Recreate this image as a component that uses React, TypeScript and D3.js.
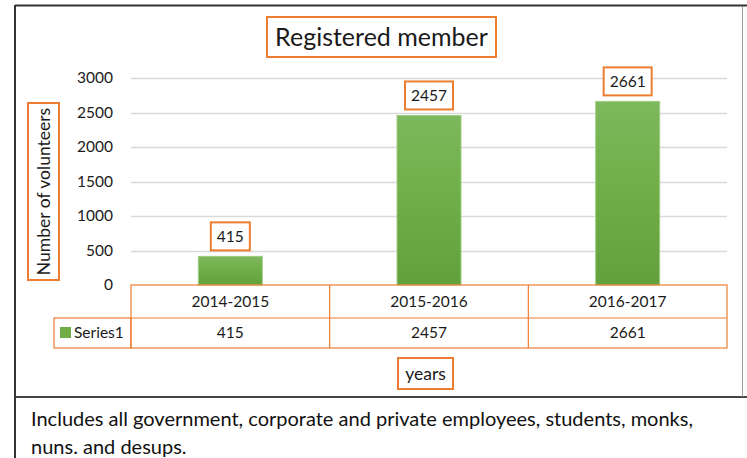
import React, { useEffect, useRef } from "react";
import * as d3 from "d3";

const width = 747;
const height = 458;

const categories = ["2014-2015", "2015-2016", "2016-2017"];
const values = [415, 2457, 2661];
const yTicks = [0, 500, 1000, 1500, 2000, 2500, 3000];
const seriesName = "Series1";
const title = "Registered member";
const yTitle = "Number of volunteers";
const xTitle = "years";
const noteLines = [
  "Includes all government, corporate and private employees, students, monks,",
  "nuns. and desups.",
];

const orange = "#ED7D31";
const ink = "#1a1a1a";
const font = "Lato, 'Open Sans', sans-serif";

const App = () => {
  const ref = useRef<SVGSVGElement>(null);

  const chart = () => {
    const svg = d3
      .select(ref.current)
      .attr("width", width)
      .attr("height", height)
      .attr("viewBox", [0, 0, width, height].join(" "))
      .style("font-family", font)
      .attr("fill", ink);

    svg.selectAll("*").remove();

    svg.append("rect").attr("width", width).attr("height", height).attr("fill", "#fff");

    const x = d3.scaleBand().domain(categories).range([131, 727]);
    const y = d3.scaleLinear().domain([0, 3000]).range([285, 78]);

    // outer frame
    svg.append("line").attr("x1", 15).attr("x2", width).attr("y1", 5.5).attr("y2", 5.5)
      .attr("stroke", "#333").attr("stroke-width", 2);
    svg.append("line").attr("x1", 15).attr("x2", 15).attr("y1", 5).attr("y2", height)
      .attr("stroke", "#333").attr("stroke-width", 2);
    svg.append("line").attr("x1", 15).attr("x2", width).attr("y1", 397).attr("y2", 397)
      .attr("stroke", "#444").attr("stroke-width", 2);
    svg.append("line").attr("x1", 742.5).attr("x2", 742.5).attr("y1", 6).attr("y2", 397)
      .attr("stroke", "#999").attr("stroke-width", 1);

    // gridlines
    svg.append("g")
      .selectAll("line")
      .data(yTicks.filter((d) => d > 0))
      .join("line")
      .attr("x1", 131)
      .attr("x2", 727)
      .attr("y1", (d) => Math.round(y(d)) + 0.5)
      .attr("y2", (d) => Math.round(y(d)) + 0.5)
      .attr("stroke", "#d9d9d9")
      .attr("stroke-width", 1.3);

    // y axis ticks
    const yAxis = d3.axisLeft(y).tickValues(yTicks).tickFormat(d3.format("d")).tickSize(0).tickPadding(0);
    svg.append("g")
      .attr("transform", "translate(113,0)")
      .call(yAxis)
      .call((g) => g.select(".domain").remove())
      .call((g) =>
        g.selectAll("text")
          .attr("font-size", 15.5)
          .attr("font-family", font)
          .attr("fill", ink)
      );

    // gradient
    const defs = svg.append("defs");
    const grad = defs.append("linearGradient").attr("id", "barGrad")
      .attr("x1", 0).attr("x2", 0).attr("y1", 0).attr("y2", 1);
    grad.append("stop").attr("offset", "0%").attr("stop-color", "#7db85d");
    grad.append("stop").attr("offset", "50%").attr("stop-color", "#6fae46");
    grad.append("stop").attr("offset", "100%").attr("stop-color", "#62a03c");

    const barW = 64;
    svg.append("g")
      .selectAll("rect")
      .data(values)
      .join("rect")
      .attr("x", (d, i) => x(categories[i])! + x.bandwidth() / 2 - barW / 2)
      .attr("y", (d) => y(d))
      .attr("width", barW)
      .attr("height", (d) => y(0) - y(d))
      .attr("fill", "url(#barGrad)")
      .attr("stroke", "#9fcd84")
      .attr("stroke-width", 1);

    // data labels
    const lbl = svg.append("g")
      .selectAll("g")
      .data(values)
      .join("g")
      .attr("transform", (d, i) => `translate(${x(categories[i])! + x.bandwidth() / 2},${y(d) - 20})`);
    lbl.append("rect")
      .attr("x", (d) => -(String(d).length * 9 + 12) / 2)
      .attr("y", -14)
      .attr("width", (d) => String(d).length * 9 + 12)
      .attr("height", 28)
      .attr("fill", "#fff")
      .attr("stroke", orange)
      .attr("stroke-width", 2);
    lbl.append("text")
      .attr("text-anchor", "middle")
      .attr("dy", "0.35em")
      .attr("font-size", 15.5)
      .text((d) => d);

    // data table
    const tbl = svg.append("g").attr("stroke", orange).attr("stroke-width", 1.2).attr("fill", "none");
    tbl.append("rect").attr("x", 131).attr("y", 285).attr("width", 596).attr("height", 63);
    tbl.append("line").attr("x1", 131).attr("x2", 727).attr("y1", 318).attr("y2", 318);
    tbl.append("rect").attr("x", 54).attr("y", 318).attr("width", 77).attr("height", 30);
    tbl.selectAll(".col")
      .data(categories.slice(1))
      .join("line")
      .attr("x1", (d) => x(d)!)
      .attr("x2", (d) => x(d)!)
      .attr("y1", 285)
      .attr("y2", 348);

    svg.append("g")
      .selectAll("text")
      .data(categories)
      .join("text")
      .attr("x", (d) => x(d)! + x.bandwidth() / 2)
      .attr("y", 307)
      .attr("text-anchor", "middle")
      .attr("font-size", 15.5)
      .text((d) => d);

    svg.append("g")
      .selectAll("text")
      .data(values)
      .join("text")
      .attr("x", (d, i) => x(categories[i])! + x.bandwidth() / 2)
      .attr("y", 338)
      .attr("text-anchor", "middle")
      .attr("font-size", 15.5)
      .text((d) => d);

    svg.append("rect").attr("x", 60).attr("y", 327).attr("width", 11).attr("height", 11).attr("fill", "#70AD47");
    svg.append("text").attr("x", 74).attr("y", 338).attr("font-size", 15.5).text(seriesName);

    // title
    svg.append("rect").attr("x", 267).attr("y", 17).attr("width", 229).attr("height", 40)
      .attr("fill", "#fff").attr("stroke", orange).attr("stroke-width", 2);
    svg.append("text").attr("x", 381.5).attr("y", 46).attr("text-anchor", "middle")
      .attr("font-size", 25).text(title);

    // y title
    svg.append("rect").attr("x", 28).attr("y", 103).attr("width", 31).attr("height", 177)
      .attr("fill", "#fff").attr("stroke", orange).attr("stroke-width", 2);
    svg.append("text")
      .attr("transform", "translate(43.5,191.5) rotate(-90)")
      .attr("text-anchor", "middle")
      .attr("dy", "0.35em")
      .attr("font-size", 17.5)
      .text(yTitle);

    // x title
    svg.append("rect").attr("x", 398).attr("y", 358).attr("width", 55).attr("height", 31)
      .attr("fill", "#fff").attr("stroke", orange).attr("stroke-width", 2);
    svg.append("text").attr("x", 425.5).attr("y", 373.5).attr("text-anchor", "middle")
      .attr("dy", "0.35em").attr("font-size", 17.5).text(xTitle);

    // note
    svg.append("g")
      .selectAll("text")
      .data(noteLines)
      .join("text")
      .attr("x", 31)
      .attr("y", (d, i) => 426 + i * 28)
      .attr("font-size", 20)
      .attr("fill", "#111")
      .text((d) => d);
  };

  useEffect(() => {
    chart();
  }, []);

  return (
    <div>
      <svg ref={ref} style={{ position: "absolute", left: 0, top: 0 }} />
    </div>
  );
};

export default App;
